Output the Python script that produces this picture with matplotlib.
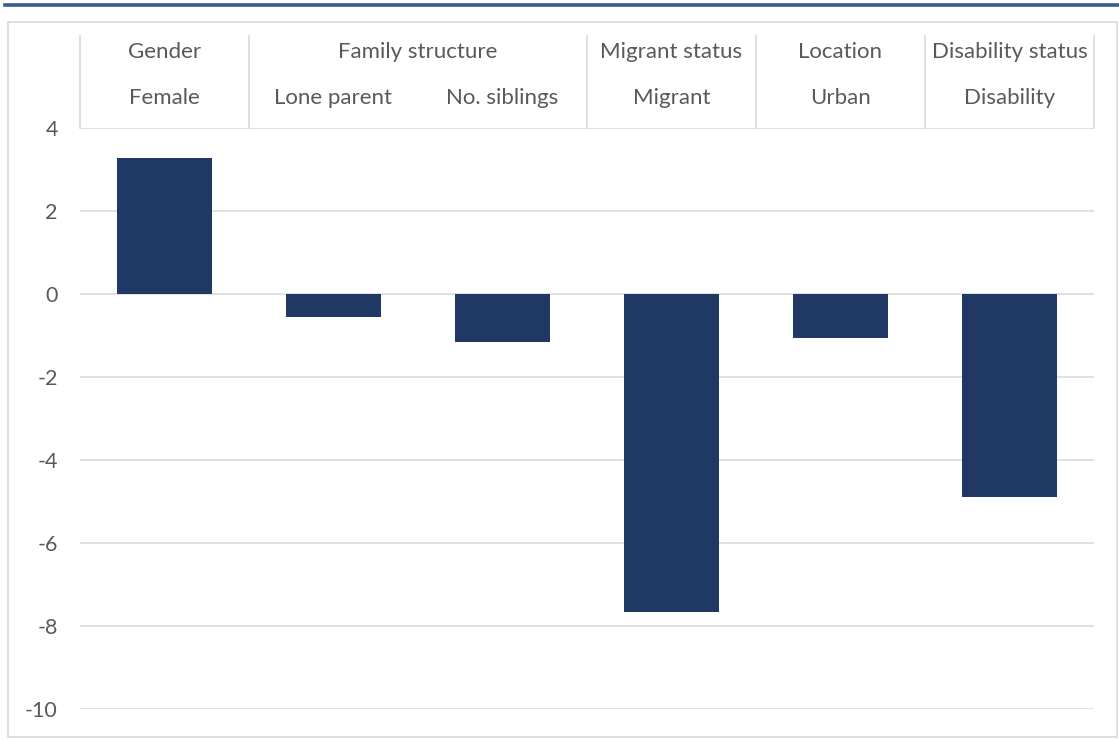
import matplotlib
matplotlib.use("Agg")
import matplotlib.pyplot as plt
from matplotlib.lines import Line2D
from matplotlib.patches import Rectangle

categories = ["Female", "Lone parent", "No. siblings", "Migrant", "Urban", "Disability"]
values = [3.28, -0.55, -1.16, -7.66, -1.06, -4.89]
groups = ["Gender", "Family structure", "Migrant status", "Location", "Disability status"]
group_sizes = [1, 2, 1, 1, 1]
yticks = [4, 2, 0, -2, -4, -6, -8, -10]

W, H = 1119, 740
fig = plt.figure(figsize=(W / 100, H / 100), dpi=100)
plt.rcParams['font.family'] = ['Lato', 'DejaVu Sans']
txt = "#595959"
grid = "#D9D9D9"

def fx(px):
    return px / W

def fy(py):
    return 1 - py / H

# top blue rule
fig.add_artist(Line2D([fx(5), fx(1119)], [fy(4.5), fy(4.5)], color="#355E93", lw=2.6))
# outer border
fig.add_artist(Rectangle((fx(8), fy(737)), fx(1117) - fx(8), fy(22) - fy(737),
                         fill=False, edgecolor=grid, lw=1.2))

left, right, top, bottom = 80, 1094, 128, 709
ax = fig.add_axes([fx(left), fy(bottom), fx(right) - fx(left), fy(top) - fy(bottom)])
x = list(range(len(categories)))
ax.bar(x, values, width=0.56, color="#203864", zorder=3)
ax.set_xlim(-0.5, len(categories) - 0.5)
ax.set_ylim(-10, 4)
ax.set_yticks(yticks)
ax.set_yticklabels([str(v) for v in yticks])
ax.set_xticks([])
ax.tick_params(axis="y", length=0, pad=16, labelsize=15.5, labelcolor=txt)
for s in ax.spines.values():
    s.set_visible(False)
for v in yticks:
    ax.axhline(v, color=grid, lw=1.1, zorder=1)

# header table
tr = ax.get_xaxis_transform()
y_top_ax = (fy(36) - fy(bottom)) / (fy(top) - fy(bottom))
y_row1 = (fy(52) - fy(bottom)) / (fy(top) - fy(bottom))
y_row2 = (fy(98) - fy(bottom)) / (fy(top) - fy(bottom))

bounds = [-0.5]
for gsz in group_sizes:
    bounds.append(bounds[-1] + gsz)
for b in bounds:
    ax.plot([b, b], [1, y_top_ax], transform=tr, color=grid, lw=1.2, clip_on=False)
for i, g in enumerate(groups):
    cx = (bounds[i] + bounds[i + 1]) / 2
    ax.text(cx, y_row1, g, transform=tr, ha="center", va="center", fontsize=16, color=txt, clip_on=False)
for i, c in enumerate(categories):
    ax.text(i, y_row2, c, transform=tr, ha="center", va="center", fontsize=16, color=txt, clip_on=False)

fig.savefig("out.png", dpi=100)
